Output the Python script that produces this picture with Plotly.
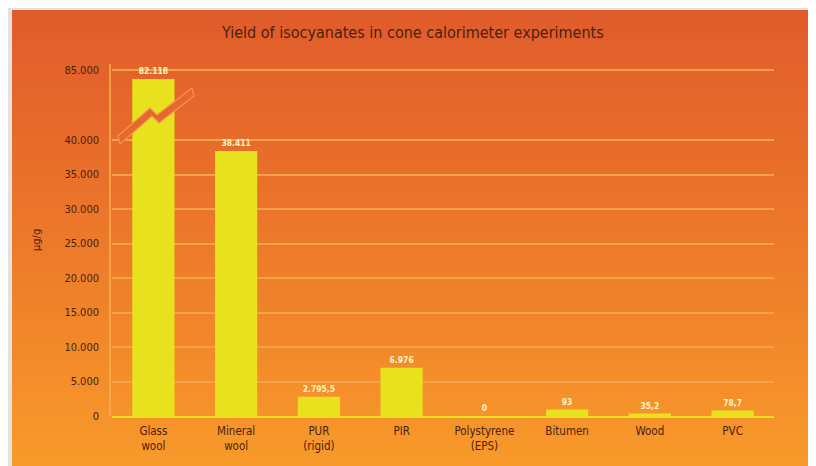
import plotly.graph_objects as go

# ---- data ----
categories = ["Glass<br>wool", "Mineral<br>wool", "PUR<br>(rigid)", "PIR",
              "Polystyrene<br>(EPS)", "Bitumen", "Wood", "PVC"]
# bar heights as drawn in the picture
values = [82118, 38411, 2795.5, 6976, 0, 930, 352, 787]
# value labels as printed on the chart
value_labels = ["82.118", "38.411", "2.795,5", "6.976", "0", "93", "35,2", "78,7"]
low_ticks = [0, 5000, 10000, 15000, 20000, 25000, 30000, 35000, 40000]
low_tick_text = ["0", "5.000", "10.000", "15.000", "20.000", "25.000", "30.000", "35.000", "40.000"]
high_ticks = [85000]
high_tick_text = ["85.000"]
title_text = "Yield of isocyanates in cone calorimeter experiments"
unit_text = "µg/g"

# ---- geometry (viewport pixels; the page puts the figure at an 8px offset) ----
OFF = 8
W, H = 816, 466
L, R = 112, 774
T, B = 62, 416
split_px = 130
pw, ph = R - L, B - T

def px_x(p):
    return (p - L) / pw

def px_y(p):
    return (B - p) / ph

split_frac = (B - split_px) / ph
low_range = [0, (B - split_px) / 6.9 * 1000]
high_range = [65800, 87560]

FONT = "Liberation Sans Narrow, Arial Narrow, DejaVu Sans Condensed, sans-serif"
BROWN = "#4a2210"
BAR = "#e7e11e"
LABEL = "#fff5c8"
GRID = "#f5a24a"

fig = go.Figure()

low_text = [("" if i == 0 else "<b>%s</b>" % t) for i, t in enumerate(value_labels)]
fig.add_trace(go.Bar(
    x=categories, y=values, xaxis="x", yaxis="y",
    marker=dict(color=BAR, line=dict(width=0)),
    text=low_text, textposition="outside", cliponaxis=False,
    textfont=dict(size=8.5, color=LABEL, family=FONT),
    hoverinfo="skip", showlegend=False,
))
fig.add_trace(go.Bar(
    x=categories[:1], y=values[:1], xaxis="x", yaxis="y2",
    marker=dict(color=BAR, line=dict(width=0)),
    text=["<b>%s</b>" % value_labels[0]], textposition="outside", cliponaxis=False,
    textfont=dict(size=8.5, color=LABEL, family=FONT),
    hoverinfo="skip", showlegend=False,
))

# ---- background gradient ----
stops = [(10, (224, 92, 44)), (150, (232, 108, 42)), (300, (240, 130, 42)), (466, (248, 154, 42))]

def color_at(p):
    for (a, ca), (b, cb) in zip(stops, stops[1:]):
        if a <= p <= b:
            t = (p - a) / (b - a)
            c = [round(ca[k] + (cb[k] - ca[k]) * t) for k in range(3)]
            return "rgb(%d,%d,%d)" % tuple(c)
    return "rgb(%d,%d,%d)" % stops[-1][1]

shapes = []
step = 6
p = 10
while p < H + OFF:
    shapes.append(dict(type="rect", xref="paper", yref="paper", layer="below",
                       x0=px_x(12), x1=px_x(810), y0=px_y(p + step + 1), y1=px_y(p),
                       fillcolor=color_at(p + step / 2), line=dict(width=0)))
    p += step

# y axis line (light)
shapes.append(dict(type="line", xref="paper", yref="paper", layer="between",
                   x0=px_x(110), x1=px_x(110), y0=0, y1=px_y(64),
                   line=dict(color="#f6b14c", width=1.5)))

# broken-axis zigzag
zig = [(118, 136), (150, 108), (157, 115), (192, 88), (194, 96), (159, 123), (152, 116), (120, 144)]
path = "M " + " L ".join("%f,%f" % (px_x(a), px_y(b)) for a, b in zig) + " Z"
shapes.append(dict(type="path", xref="paper", yref="paper", layer="above", path=path,
                   fillcolor=color_at(115), line=dict(color="#f39658", width=1.2)))

fig.update_layout(
    width=W, height=H,
    margin=dict(l=L - OFF, r=W - (R - OFF), t=T - OFF, b=H - (B - OFF), pad=0),
    paper_bgcolor="#e2e2e2",
    plot_bgcolor="rgba(0,0,0,0)",
    bargap=0.49,
    barmode="overlay",
    shapes=shapes,
    font=dict(family=FONT, color=BROWN, size=11),
    xaxis=dict(
        domain=[0, 1], anchor="y",
        categoryorder="array", categoryarray=categories,
        showline=True, linecolor=BAR, linewidth=2,
        showgrid=False, ticks="", tickfont=dict(size=11.5, color=BROWN, family=FONT),
        ticklabelstandoff=3,
    ),
    yaxis=dict(
        domain=[0, split_frac], range=low_range, anchor="x",
        tickvals=low_ticks, ticktext=low_tick_text,
        showgrid=True, gridcolor=GRID, gridwidth=1.5,
        zeroline=False, showline=False, ticks="",
        tickfont=dict(size=11, color=BROWN, family=FONT), ticklabelstandoff=12,
    ),
    yaxis2=dict(
        domain=[split_frac, 1], range=high_range, anchor="x",
        tickvals=high_ticks, ticktext=high_tick_text,
        showgrid=True, gridcolor=GRID, gridwidth=1.5,
        zeroline=False, showline=False, ticks="",
        tickfont=dict(size=11, color=BROWN, family=FONT), ticklabelstandoff=12,
    ),
    annotations=[
        dict(text=title_text, xref="paper", yref="paper",
             x=px_x(412), y=px_y(33), xanchor="center", yanchor="middle",
             showarrow=False, font=dict(size=16, color=BROWN, family=FONT)),
        dict(text=unit_text, xref="paper", yref="paper",
             x=px_x(37), y=px_y(240), xanchor="center", yanchor="middle",
             textangle=-90, showarrow=False, font=dict(size=11, color=BROWN, family=FONT)),
    ],
)

fig.write_html("out.html")
